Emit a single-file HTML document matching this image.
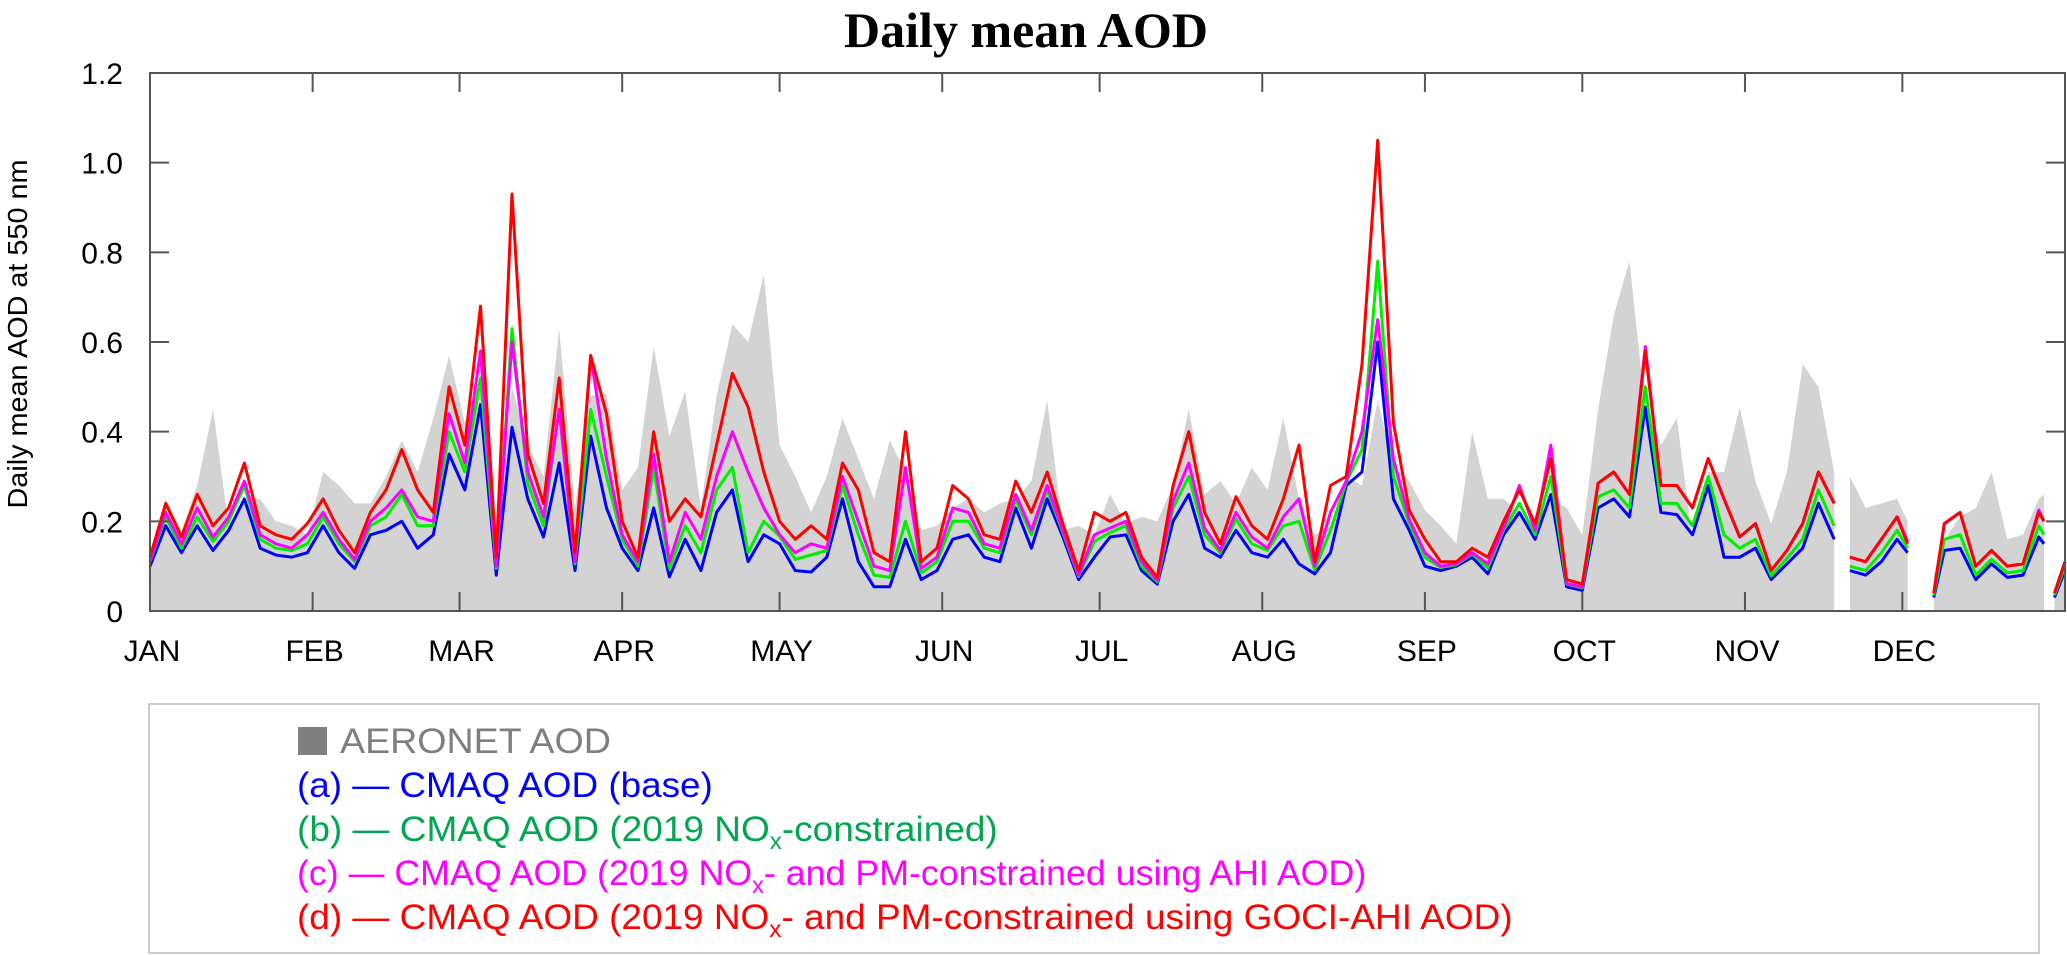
<!DOCTYPE html>
<html><head><meta charset="utf-8"><style>
html,body{margin:0;padding:0;background:#fff;}
svg{display:block;font-family:"Liberation Sans",Arial,sans-serif;}
</style></head><body>
<svg id="chart" width="2067" height="955" viewBox="0 0 2067 955" xmlns="http://www.w3.org/2000/svg">
<text x="1026" y="47" text-anchor="middle" font-family="'Liberation Serif',serif" font-weight="bold" font-size="50">Daily mean AOD</text>
<text transform="translate(27,334) rotate(-90)" text-anchor="middle" font-size="28" textLength="349" lengthAdjust="spacingAndGlyphs">Daily mean AOD at 550 nm</text>
<g id="plot"></g>
<g id="axes"></g>
<rect x="149" y="704" width="1890" height="249" fill="#fff" stroke="#ccc" stroke-width="2"/>
<g font-size="35">
<rect x="298" y="727" width="29" height="28" fill="#7f7f7f"/>
<text class="lg" data-w="271" x="340" y="753" fill="#7f7f7f">AERONET AOD</text>
<text class="lg" data-w="416" x="297" y="797" fill="#0000ff">(a) — CMAQ AOD (base)</text>
<text class="lg" data-w="701" x="297" y="841" fill="#00a650">(b) — CMAQ AOD (2019 NO<tspan font-size="23" dy="8">x</tspan><tspan dy="-8">-constrained)</tspan></text>
<text class="lg" data-w="1070" x="297" y="885" fill="#ff00ff">(c) — CMAQ AOD (2019 NO<tspan font-size="23" dy="8">x</tspan><tspan dy="-8">- and PM-constrained using AHI AOD)</tspan></text>
<text class="lg" data-w="1216" x="297" y="929" fill="#ff0000">(d) — CMAQ AOD (2019 NO<tspan font-size="23" dy="8">x</tspan><tspan dy="-8">- and PM-constrained using GOCI-AHI AOD)</tspan></text>
</g>
</svg>
<script>
const days = [0,3,6,9,12,15,18,21,24,27,30,33,36,39,42,45,48,51,54,57,60,63,66,69,72,75,78,81,84,87,90,93,96,99,102,105,108,111,114,117,120,123,126,129,132,135,138,141,144,147,150,153,156,159,162,165,168,171,174,177,180,183,186,189,192,195,198,201,204,207,210,213,216,219,222,225,228,231,234,237,240,243,246,249,252,255,258,261,264,267,270,273,276,279,282,285,288,291,294,297,300,303,306,309,312,315,318,321,322,324,327,330,333,335,337,340,342,345,348,351,354,357,360,361,362,363,365];
const aeronet = [.10,.25,.18,.28,.45,.19,.25,.25,.20,.19,.17,.31,.28,.24,.24,.30,.38,.31,.43,.57,.42,.52,.16,.50,.37,.30,.63,.23,.48,.485,.27,.32,.59,.39,.49,.23,.48,.64,.60,.75,.37,.30,.22,.30,.43,.34,.25,.38,.31,.18,.19,.23,.25,.22,.24,.25,.29,.47,.18,.19,.17,.26,.195,.21,.20,.28,.45,.26,.29,.24,.32,.27,.43,.25,.17,.19,.30,.28,.47,.32,.29,.225,.19,.15,.40,.25,.25,.22,.17,.25,.23,.17,.45,.66,.78,.45,.37,.43,.16,.31,.31,.455,.29,.195,.31,.55,.50,.31,null,.30,.23,.24,.25,.20,null,.08,.16,.21,.23,.31,.16,.17,.25,.26,null,.05,.12];
const cmaqBase = [.10,.19,.13,.19,.135,.18,.25,.14,.125,.12,.13,.19,.13,.095,.17,.18,.20,.14,.17,.35,.27,.46,.08,.41,.25,.165,.33,.09,.39,.23,.14,.09,.23,.076,.16,.09,.22,.27,.11,.17,.15,.09,.087,.12,.25,.11,.054,.054,.16,.07,.09,.16,.17,.12,.11,.23,.14,.25,.165,.07,.12,.165,.17,.09,.06,.20,.26,.14,.12,.18,.13,.12,.16,.105,.083,.13,.28,.31,.60,.25,.18,.10,.09,.10,.12,.083,.17,.22,.16,.26,.054,.046,.23,.25,.21,.455,.22,.215,.17,.28,.12,.12,.14,.07,.105,.14,.24,.16,null,.09,.08,.11,.16,.13,null,.03,.135,.14,.07,.105,.075,.08,.165,.15,null,.03,.09];
const cmaqNox = [.11,.21,.14,.21,.155,.20,.28,.16,.14,.135,.15,.21,.15,.11,.19,.21,.26,.19,.19,.40,.31,.52,.095,.63,.285,.19,.45,.105,.45,.30,.16,.10,.32,.095,.19,.13,.27,.32,.13,.20,.167,.115,.125,.135,.28,.17,.08,.075,.20,.085,.11,.20,.20,.14,.13,.25,.17,.27,.175,.077,.155,.175,.19,.10,.065,.23,.30,.17,.13,.205,.15,.135,.19,.20,.092,.18,.287,.36,.78,.30,.195,.12,.097,.103,.127,.096,.18,.24,.17,.30,.06,.051,.255,.27,.23,.50,.24,.24,.19,.30,.17,.14,.16,.078,.117,.16,.27,.19,null,.10,.09,.13,.18,.14,null,.035,.16,.17,.08,.115,.085,.09,.19,.17,null,.035,.10];
const cmaqAhi = [.11,.22,.15,.23,.165,.21,.29,.17,.15,.14,.17,.22,.16,.115,.20,.23,.27,.21,.20,.44,.33,.58,.10,.60,.31,.21,.45,.11,.57,.34,.17,.11,.35,.11,.22,.16,.30,.40,.31,.23,.17,.13,.15,.14,.30,.20,.10,.09,.32,.095,.12,.23,.22,.15,.14,.26,.18,.28,.18,.08,.17,.185,.20,.11,.068,.245,.33,.185,.135,.22,.165,.14,.21,.25,.10,.22,.29,.40,.65,.34,.205,.13,.10,.105,.13,.105,.185,.28,.18,.37,.062,.053,.285,.31,.26,.59,.28,.28,.23,.34,.25,.165,.195,.09,.135,.195,.31,.24,null,.12,.11,.16,.21,.155,null,.04,.195,.22,.10,.135,.10,.105,.225,.20,null,.04,.11];
const cmaqGoci = [.12,.24,.165,.26,.19,.23,.33,.19,.17,.16,.195,.25,.18,.13,.22,.27,.36,.27,.22,.50,.37,.68,.12,.93,.35,.24,.52,.13,.57,.44,.20,.12,.40,.20,.25,.21,.37,.53,.455,.31,.20,.16,.19,.16,.33,.27,.13,.11,.40,.11,.14,.28,.25,.17,.16,.29,.22,.31,.195,.09,.22,.20,.22,.12,.075,.28,.40,.22,.15,.255,.19,.16,.25,.37,.11,.28,.30,.55,1.05,.42,.225,.16,.11,.11,.14,.12,.20,.27,.195,.34,.07,.06,.285,.31,.26,.58,.28,.28,.23,.34,.25,.165,.195,.09,.135,.195,.31,.24,null,.12,.11,.16,.21,.15,null,.04,.195,.22,.10,.135,.10,.105,.22,.20,null,.04,.11];
const yTicks = [0,0.2,0.4,0.6,0.8,1.0,1.2];
const yTickLabels = ["0","0.2","0.4","0.6","0.8","1.0","1.2"];
const monthStarts = [0,31,59,90,120,151,181,212,243,273,304,334];
const monthLabels = ["JAN","FEB","MAR","APR","MAY","JUN","JUL","AUG","SEP","OCT","NOV","DEC"];

const NS = "http://www.w3.org/2000/svg";
const X0 = 150, X1 = 2065, Y0 = 611, Y1 = 73;
function xs(d){ return X0 + d * (X1 - X0) / 365; }
function ys(v){ return Y0 - v * (Y0 - Y1) / 1.2; }
function mk(tag, attrs, parent){ const e = document.createElementNS(NS, tag); for (const k in attrs) e.setAttribute(k, attrs[k]); parent.appendChild(e); return e; }
const plot = document.getElementById('plot');
const axes = document.getElementById('axes');

let seg = [];
function flushArea(){
  if (seg.length > 1) {
    let d = 'M' + xs(seg[0][0]).toFixed(1) + ',' + ys(0);
    seg.forEach(p => { d += 'L' + xs(p[0]).toFixed(1) + ',' + ys(p[1]).toFixed(1); });
    d += 'L' + xs(seg[seg.length-1][0]).toFixed(1) + ',' + ys(0) + 'Z';
    const a = mk('path', {d: d, fill: '#d3d3d3', stroke: 'none'}, plot);
    
    
  }
  seg = [];
}
days.forEach((d, i) => { if (aeronet[i] === null) flushArea(); else seg.push([d, aeronet[i]]); });
flushArea();

function drawLine(vals, color, name){
  let d = '', pen = false;
  days.forEach((dd, i) => {
    const v = vals[i];
    if (v === null) { pen = false; return; }
    d += (pen ? 'L' : 'M') + xs(dd).toFixed(1) + ',' + ys(v).toFixed(1);
    pen = true;
  });
  const p = mk('path', {d: d, fill: 'none', stroke: color, 'stroke-width': 3, 'stroke-linejoin': 'round'}, plot);
  
  
}
drawLine(cmaqBase, '#0000ff', 'line-cmaq-base');
drawLine(cmaqNox, '#00ee00', 'line-cmaq-nox');
drawLine(cmaqAhi, '#ff00ff', 'line-cmaq-ahi');
drawLine(cmaqGoci, '#ff0000', 'line-cmaq-goci');

const fr = mk('rect', {x: X0, y: Y1, width: X1 - X0, height: Y0 - Y1, fill: 'none', stroke: '#555', 'stroke-width': 2}, axes);



yTicks.forEach((v, i) => {
  const y = ys(v);
  mk('line', {x1: X0, x2: X0 + 19, y1: y, y2: y, stroke: '#555', 'stroke-width': 2}, axes);
  mk('line', {x1: X1, x2: X1 - 19, y1: y, y2: y, stroke: '#555', 'stroke-width': 2}, axes);
  const t = mk('text', {x: 123, y: y + 11, 'text-anchor': 'end', 'font-size': 30}, axes);
  t.textContent = yTickLabels[i];
  
  
});
monthStarts.forEach((m, i) => {
  const x = xs(m);
  mk('line', {x1: x, x2: x, y1: Y0, y2: Y0 - 19, stroke: '#555', 'stroke-width': 2}, axes);
  mk('line', {x1: x, x2: x, y1: Y1, y2: Y1 + 19, stroke: '#555', 'stroke-width': 2}, axes);
  const t = mk('text', {x: x + 2, y: 661, 'text-anchor': 'middle', 'font-size': 30}, axes);
  t.textContent = monthLabels[i];
  
  
});

document.querySelectorAll('text.lg').forEach(t => {
  const target = +t.getAttribute('data-w');
  const w = t.getComputedTextLength();
  const x = +t.getAttribute('x');
  if (w > 0) {
    const s = target / w;
    t.setAttribute('transform', 'translate(' + x + ',0) scale(' + s.toFixed(4) + ',1) translate(' + (-x) + ',0)');
  }
});
</script>
</body></html>
